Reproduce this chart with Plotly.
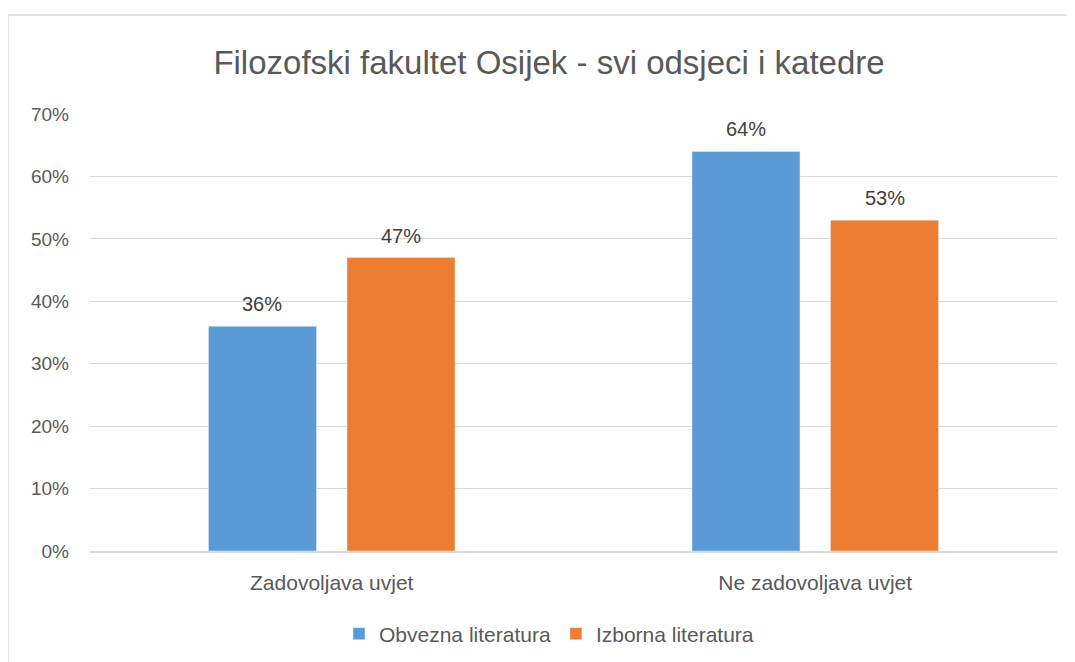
import plotly.graph_objects as go

categories = ["Zadovoljava uvjet", "Ne zadovoljava uvjet"]
series_names = ["Obvezna literatura", "Izborna literatura"]
obvezna = [0.36, 0.64]
izborna = [0.47, 0.53]
tick_vals = [0, 0.1, 0.2, 0.3, 0.4, 0.5, 0.6, 0.7]
title_text = "Filozofski fakultet Osijek - svi odsjeci i katedre"

FONT = "Liberation Sans, Open Sans, sans-serif"
TXT = "#595959"
colors = ["#5B9BD5", "#ED7D31"]

W, H = 1075, 662
L, R, T, B = 82, 26, 106, 119
PW, PH = W - L - R, H - T - B

fig = go.Figure()
all_series = [obvezna, izborna]
for name, vals, col in zip(series_names, all_series, colors):
    fig.add_trace(go.Bar(x=categories, y=vals, name=name, marker_color=col))

bargap, bargroupgap = 0.427, 0.22
slot = PW / len(categories) * (1 - bargap) / len(all_series)
for si, vals in enumerate(all_series):
    shift = (si - (len(all_series) - 1) / 2) * slot
    for cat, v in zip(categories, vals):
        fig.add_annotation(x=cat, y=v, xref="x", yref="y", text=f"{v*100:.0f}%",
                           showarrow=False, xshift=shift, yanchor="bottom", yshift=9,
                           font=dict(size=20, color="#404040", family=FONT))

fig.update_layout(
    width=W, height=H,
    margin=dict(l=L, r=R, t=T, b=B),
    paper_bgcolor="white", plot_bgcolor="white",
    barmode="group", bargap=bargap, bargroupgap=bargroupgap,
    title=dict(text=title_text, x=541 / W, xref="container", xanchor="center",
               y=1 - 54 / H, yref="container", yanchor="middle",
               font=dict(size=33, color=TXT, family=FONT)),
    font=dict(family=FONT, color=TXT, size=20),
    legend=dict(orientation="h", x=541 / W, xref="container", xanchor="center",
                y=1 - 626 / H, yref="container", yanchor="middle",
                font=dict(size=21, color=TXT), itemwidth=30, traceorder="normal"),
    showlegend=True,
)
fig.update_yaxes(range=[0, 0.7], tickvals=tick_vals, tickformat=".0%",
                 showgrid=True, gridcolor="#D9D9D9", gridwidth=1,
                 zeroline=False, showline=False, ticks="",
                 tickfont=dict(size=19, color=TXT), ticklabelstandoff=20)
fig.update_xaxes(showline=True, linecolor="#D9D9D9", linewidth=1.5, ticks="",
                 tickfont=dict(size=21, color=TXT), ticklabelstandoff=12)

# chart border
fig.add_shape(type="rect", xref="paper", yref="paper",
              x0=(0 - L) / PW, x1=1.1, y0=-0.5, y1=1 + (T - 7) / PH,
              line=dict(color="#D9D9D9", width=1.5), fillcolor="rgba(0,0,0,0)", layer="below")

fig.write_html("out.html")
